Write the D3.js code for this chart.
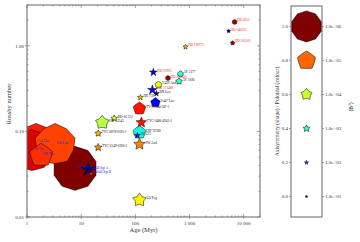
<!DOCTYPE html>
<html>
<head>
<meta charset="utf-8">
<script src="https://cdn.jsdelivr.net/npm/d3@7"></script>
<style>
body { margin: 0; background: white; }
text { font-family: "Liberation Serif", "DejaVu Serif", serif; }
</style>
</head>
<body>
<div id="chart"></div>
<script>
// star data: name, age (Myr), Rossby number, axisymmetry, poloidal fraction, <B^2>, group
var names = ["TW Hya", "AA Tau", "BP Tau", "GQ Lup", "DN Tau", "V4046 Sgr A", "V4046 Sgr B",
	"HIP 12545", "BD-16 351", "TYC 6878-0195-1", "TYC 6349-0200-1", "TYC 0486-4943-1", "HIP 76768", "AV 523",
	"PW And", "LO Peg", "TYC 5164-567-1", "V447 Lac", "HII 739", "DX Leo", "V439 And", "AV 2177", "AV 1826",
	"HD 171488", "HD 72905", "HD 206860", "HD 190771", "HD 3651", "HD 146233", "HD 101501"];
var ages = [7.7, 1.47, 1.24, 3.3, 1.82, 13.5, 15.3,
	24.5, 40.8, 20.6, 20.6, 129, 119, 109,
	119, 119, 119, 235, 124, 245, 267, 680, 640,
	206, 215, 400, 843, 6800, 5270, 6250];
var rossby = [0.037, 0.0745, 0.060, 0.0706, 0.0526, 0.036, 0.032,
	0.127, 0.142, 0.0948, 0.065, 0.127, 0.0973, 0.0898,
	0.0706, 0.0158, 0.185, 0.217, 0.249, 0.277, 0.350, 0.47, 0.385,
	0.305, 0.49, 0.42, 0.973, 1.90, 1.49, 1.08];
var axisym = [1.0, 0.95, 0.95, 0.9, 0.8, 0.12, 0.5,
	0.6, 0.35, 0.4, 0.3, 0.3, 0.85, 0.3,
	0.35, 0.5, 0.8, 0.75, 0.3, 0.2, 0.85, 0.9, 0.5,
	0.2, 0.25, 0.9, 0.4, 0.9, 0.6, 0.7];
var poloidal = [1.0, 0.88, 0.92, 0.84, 0.86, 0.0, 0.85,
	0.57, 0.6, 0.72, 0.76, 0.89, 0.37, 0.15,
	0.775, 0.65, 0.89, 0.13, 0.7, 0.0, 0.62, 0.4, 0.42,
	0.12, 0.12, 0.97, 0.72, 0.97, 0.05, 0.97];
var bsq = [5.3e6, 2.6e6, 4.2e6, 4.2e6, 3e5, 4.3e4, 60,
	2.3e4, 840, 840, 1600, 7.2e3, 1.6e4, 400,
	1.1e4, 2.3e4, 1.6e4, 4.6e3, 400, 400, 840, 400, 840,
	4.6e3, 1600, 170, 170, 170, 40, 100];
var groups = ["T", "T", "T", "T", "T", "T", "T",
	"Y", "Y", "Y", "Y", "Y", "Y", "Y", "Y", "Y", "Y", "Y", "Y", "Y", "Y", "Y", "Y",
	"S", "S", "S", "S", "S", "S", "S"];

var xTicks = [1, 10, 100, 1000, 10000];
var xTickLabels = ["1", "10", "100", "1 000", "10 000"];
var yTicks = [0.01, 0.1, 1];
var yTickLabels = ["0.01", "0.10", "1.00"];

var legendLevels = [0.0, 0.2, 0.4, 0.6, 0.8, 1.0];
var legendBsq = [1e1, 1e2, 1e3, 1e4, 1e5, 1e6];
var legendBsqLabels = ["1.0e+01", "1.0e+02", "1.0e+03", "1.0e+04", "1.0e+05", "1.0e+06"];

var labelColours = { T: "#2222dd", Y: "#111111", S: "#ee2222" };

var W = 360, H = 242;
var plot = { left: 27, right: 260, top: 5, bottom: 217 };

var svg = d3.select("#chart").append("svg")
	.attr("width", W)
	.attr("height", H);

var x = d3.scaleLog().domain([1, 2e4]).range([plot.left, plot.right]);
var y = d3.scaleLog().domain([0.01, 3]).range([plot.bottom, plot.top]);
var rScale = d3.scalePow().exponent(0.21).domain([0, 1e6]).range([0, 15.5]);

// matplotlib jet
var jr = d3.scaleLinear().domain([0, 0.35, 0.66, 0.89, 1]).range([0, 0, 1, 1, 0.5]).clamp(true);
var jg = d3.scaleLinear().domain([0, 0.125, 0.375, 0.64, 0.91, 1]).range([0, 0, 1, 1, 0, 0]).clamp(true);
var jb = d3.scaleLinear().domain([0, 0.11, 0.34, 0.65, 1]).range([0.5, 1, 1, 0, 0]).clamp(true);
function jet(v) {
	return d3.rgb(jr(v) * 255, jg(v) * 255, jb(v) * 255).toString();
}

function starPath(r, a) {
	var k = 0.2 + 0.8 * a;
	var pts = [];
	for (var i = 0; i < 10; i++) {
		var ang = -Math.PI / 2 + i * Math.PI / 5;
		var rad = (i % 2) ? r * k : r;
		pts.push([rad * Math.cos(ang), rad * Math.sin(ang)]);
	}
	return "M" + pts.map(function(p) { return p[0].toFixed(2) + "," + p[1].toFixed(2); }).join("L") + "Z";
}

var data = names.map(function(n, i) {
	return { name: n, age: ages[i], ro: rossby[i], a: axisym[i], p: poloidal[i], b: bsq[i], g: groups[i] };
});

svg.append("clipPath").attr("id", "clip")
	.append("rect")
	.attr("x", plot.left).attr("y", plot.top)
	.attr("width", plot.right - plot.left).attr("height", plot.bottom - plot.top);

var marks = svg.append("g").attr("clip-path", "url(#clip)");

marks.selectAll("path.mark")
	.data(data)
	.enter()
	.append("path")
	.attr("class", "mark")
	.attr("transform", function(d) { return "translate(" + x(d.age) + "," + y(d.ro) + ")"; })
	.attr("d", function(d) { return starPath(rScale(d.b), d.a); })
	.attr("fill", function(d) { return jet(d.p); })
	.attr("stroke", "black")
	.attr("stroke-width", 0.5);

marks.selectAll("text.lab")
	.data(data)
	.enter()
	.append("text")
	.attr("class", "lab")
	.attr("x", function(d) { return x(d.age) + (d.g == "T" ? 2 : Math.min(rScale(d.b), 7)); })
	.attr("y", function(d) { return y(d.ro) - 0.5; })
	.attr("font-size", 3.4)
	.attr("fill", function(d) { return labelColours[d.g]; })
	.text(function(d) { return d.name; });

// frame
svg.append("rect")
	.attr("x", plot.left).attr("y", plot.top)
	.attr("width", plot.right - plot.left).attr("height", plot.bottom - plot.top)
	.attr("fill", "none")
	.attr("stroke", "#666")
	.attr("stroke-width", 1);

var axisCol = "#666";
var minorX = [], minorY = [];
[1, 10, 100, 1000, 10000].forEach(function(dec) {
	for (var m = 2; m <= 9; m++) if (dec * m <= 2e4) minorX.push(dec * m);
});
[0.01, 0.1, 1].forEach(function(dec) {
	for (var m = 2; m <= 9; m++) if (dec * m <= 3) minorY.push(dec * m);
});

var ticks = svg.append("g").attr("stroke", axisCol).attr("stroke-width", 0.6);
xTicks.forEach(function(t) {
	ticks.append("line").attr("x1", x(t)).attr("x2", x(t)).attr("y1", plot.bottom + 2).attr("y2", plot.bottom - 3);
	ticks.append("line").attr("x1", x(t)).attr("x2", x(t)).attr("y1", plot.top).attr("y2", plot.top + 3);
});
minorX.forEach(function(t) {
	ticks.append("line").attr("x1", x(t)).attr("x2", x(t)).attr("y1", plot.bottom).attr("y2", plot.bottom - 1.5);
	ticks.append("line").attr("x1", x(t)).attr("x2", x(t)).attr("y1", plot.top).attr("y2", plot.top + 1.5);
});
yTicks.forEach(function(t) {
	ticks.append("line").attr("y1", y(t)).attr("y2", y(t)).attr("x1", plot.left - 2).attr("x2", plot.left + 3);
	ticks.append("line").attr("y1", y(t)).attr("y2", y(t)).attr("x1", plot.right).attr("x2", plot.right - 3);
});
minorY.forEach(function(t) {
	ticks.append("line").attr("y1", y(t)).attr("y2", y(t)).attr("x1", plot.left).attr("x2", plot.left + 1.5);
	ticks.append("line").attr("y1", y(t)).attr("y2", y(t)).attr("x1", plot.right).attr("x2", plot.right - 1.5);
});

svg.selectAll("text.xt")
	.data(xTicks)
	.enter()
	.append("text")
	.attr("class", "xt")
	.attr("x", function(d) { return x(d); })
	.attr("y", plot.bottom + 7.5)
	.attr("text-anchor", "middle")
	.attr("font-size", 5)
	.attr("fill", "#333")
	.text(function(d, i) { return xTickLabels[i]; });

svg.selectAll("text.yt")
	.data(yTicks)
	.enter()
	.append("text")
	.attr("class", "yt")
	.attr("x", plot.left - 3)
	.attr("y", function(d) { return y(d) + 1.7; })
	.attr("text-anchor", "end")
	.attr("font-size", 5)
	.attr("fill", "#333")
	.text(function(d, i) { return yTickLabels[i]; });

svg.append("text")
	.attr("x", (plot.left + plot.right) / 2)
	.attr("y", 232)
	.attr("text-anchor", "middle")
	.attr("font-size", 6.5)
	.attr("fill", "#333")
	.text("Age (Myr)");

svg.append("text")
	.attr("transform", "translate(11,104) rotate(-90)")
	.attr("text-anchor", "middle")
	.attr("font-size", 6.5)
	.attr("fill", "#333")
	.text("Rossby number");

// legend panel
var leg = { left: 291, right: 322, top: 6, bottom: 217 };
var ly = d3.scaleLinear().domain([-0.12, 1.12]).range([leg.bottom, leg.top]);
var lx = (leg.left + leg.right) / 2;

svg.append("rect")
	.attr("x", leg.left).attr("y", leg.top)
	.attr("width", leg.right - leg.left).attr("height", leg.bottom - leg.top)
	.attr("fill", "white")
	.attr("stroke", "#666")
	.attr("stroke-width", 1);

svg.selectAll("path.legmark")
	.data(legendLevels)
	.enter()
	.append("path")
	.attr("class", "legmark")
	.attr("transform", function(d) { return "translate(" + lx + "," + ly(d) + ")"; })
	.attr("d", function(d, i) { return starPath(rScale(legendBsq[i]), d); })
	.attr("fill", function(d) { return jet(d); })
	.attr("stroke", "black")
	.attr("stroke-width", 0.5);

var lticks = svg.append("g").attr("stroke", axisCol).attr("stroke-width", 0.6);
legendLevels.forEach(function(v) {
	lticks.append("line").attr("x1", leg.left - 2).attr("x2", leg.left).attr("y1", ly(v)).attr("y2", ly(v));
	lticks.append("line").attr("x1", leg.right).attr("x2", leg.right + 2).attr("y1", ly(v)).attr("y2", ly(v));
});

svg.selectAll("text.lyl")
	.data(legendLevels)
	.enter()
	.append("text")
	.attr("class", "lyl")
	.attr("x", leg.left - 3)
	.attr("y", function(d) { return ly(d) + 1.7; })
	.attr("text-anchor", "end")
	.attr("font-size", 5)
	.attr("fill", "#333")
	.text(function(d) { return d.toFixed(1); });

svg.selectAll("text.lyr")
	.data(legendLevels)
	.enter()
	.append("text")
	.attr("class", "lyr")
	.attr("x", leg.right + 3)
	.attr("y", function(d) { return ly(d) + 1.7; })
	.attr("font-size", 5)
	.attr("fill", "#333")
	.text(function(d, i) { return legendBsqLabels[i]; });

svg.append("text")
	.attr("transform", "translate(279," + ((leg.top + leg.bottom) / 2) + ") rotate(-90)")
	.attr("text-anchor", "middle")
	.attr("font-size", 5.5)
	.attr("fill", "#333")
	.text("Axisymmetry (shape) / Poloidal (colour)");

svg.append("text")
	.attr("transform", "translate(353,107) rotate(-90)")
	.attr("text-anchor", "middle")
	.attr("font-size", 5.5)
	.attr("fill", "#333")
	.html("⟨B<tspan baseline-shift='super' font-size='3.5'>2</tspan>⟩");
</script>
</body>
</html>
